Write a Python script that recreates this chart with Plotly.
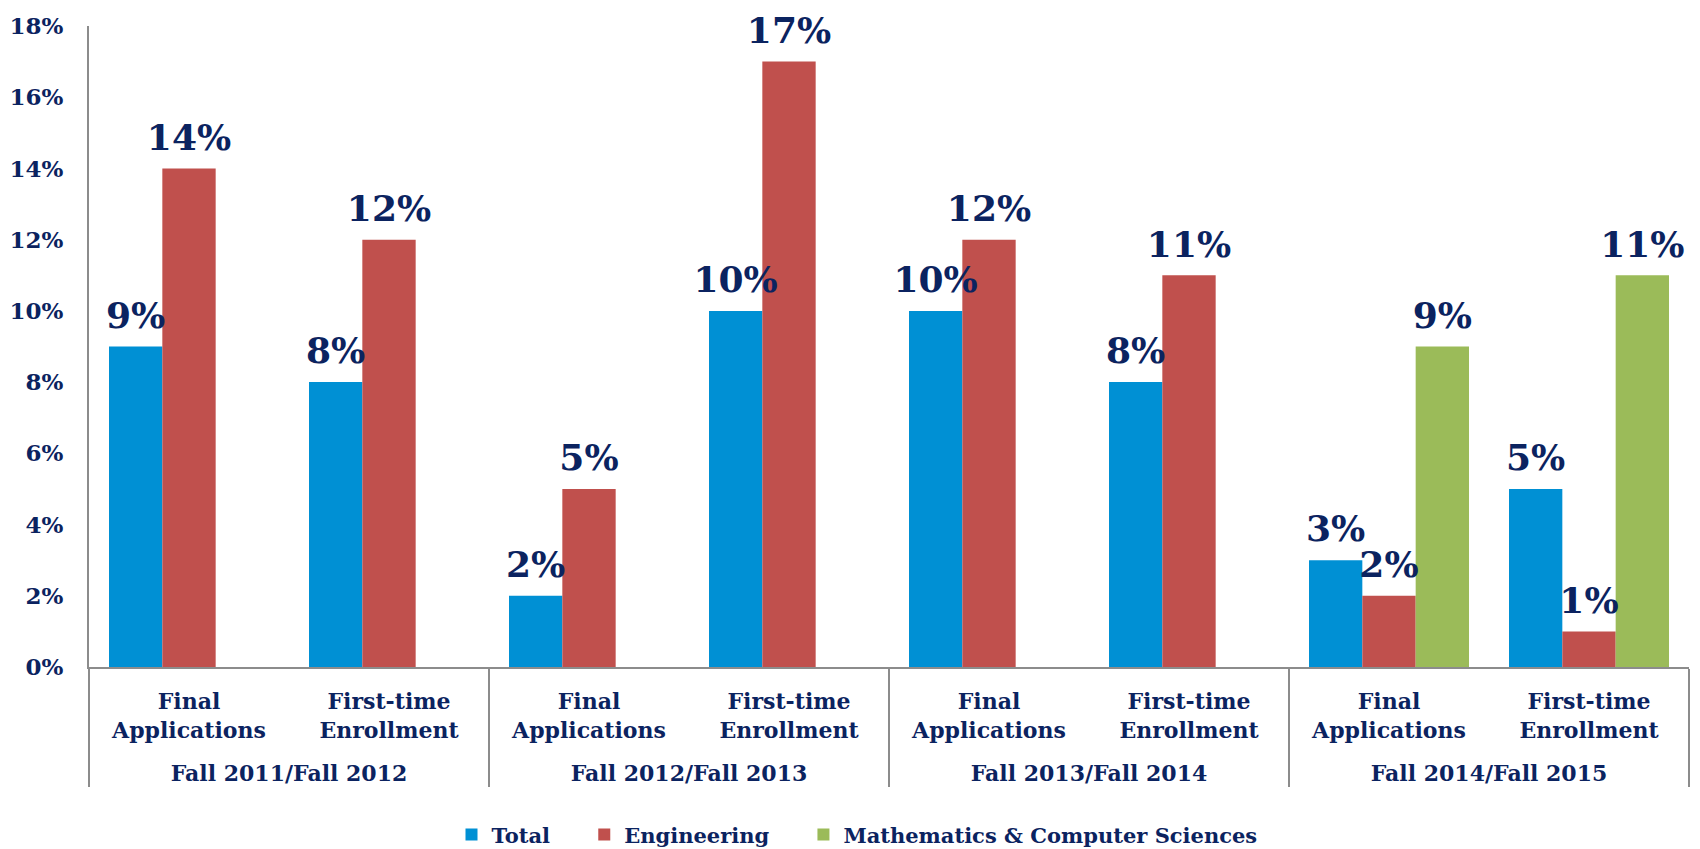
import plotly.graph_objects as go

periods = ["Fall 2011/Fall 2012", "Fall 2012/Fall 2013",
           "Fall 2013/Fall 2014", "Fall 2014/Fall 2015"]
measures = ["Final<br>Applications", "First-time<br>Enrollment"]

total = [9, 8, 2, 10, 10, 8, 3, 5]
engineering = [14, 12, 5, 17, 12, 11, 2, 1]
math_cs = [None, None, None, None, None, None, 9, 11]

# leading <br> pushes the period row down, like the original's taller rows
x_outer = ["<br>" + p for p in periods for _ in measures]
x_inner = measures * len(periods)

NAVY = "#0B2360"
FONT = "DejaVu Serif"
AXIS_GREY = "#8C8C8C"
PAD = "\u00a0" * 4

series = [
    ("Total" + PAD, total, "#0090D4"),
    ("Engineering" + PAD, engineering, "#C0504D"),
    ("Mathematics & Computer Sciences", math_cs, "#9BBB59"),
]

fig = go.Figure()
for name, vals, color in series:
    fig.add_trace(go.Bar(
        x=[x_outer, x_inner],
        y=vals,
        name=name,
        marker=dict(color=color, line=dict(width=0)),
        hoverinfo="skip",
    ))

# value labels: grouped scatter so they line up with the bars, lifted a bit
for name, vals, color in series:
    fig.add_trace(go.Scatter(
        x=[x_outer, x_inner],
        y=vals,
        mode="markers+text",
        marker=dict(size=14, opacity=0),
        text=[f"{v}%" if v is not None else "" for v in vals],
        textposition="top center",
        textfont=dict(family=FONT, size=36, color=NAVY, weight="bold"),
        cliponaxis=False,
        showlegend=False,
        hoverinfo="skip",
    ))

# page body has an 8px margin, so the figure is offset by 8px in the window
fig.update_layout(
    width=1684,
    height=841,
    barmode="group",
    bargap=0.2,
    bargroupgap=0,
    scattermode="group",
    scattergap=0.2,
    plot_bgcolor="white",
    paper_bgcolor="white",
    margin=dict(l=81, r=3, t=18, b=182, autoexpand=False),
    font=dict(family=FONT, color=NAVY, weight="bold"),
    xaxis=dict(
        type="multicategory",
        showline=True,
        linecolor=AXIS_GREY,
        linewidth=2,
        showgrid=False,
        showdividers=True,
        dividercolor=AXIS_GREY,
        dividerwidth=2,
        ticks="",
        ticklabelstandoff=14,
        tickfont=dict(family=FONT, size=22, color=NAVY, weight="bold"),
        automargin=False,
    ),
    yaxis=dict(
        range=[0, 18],
        dtick=2,
        ticksuffix="%",
        showline=True,
        linecolor=AXIS_GREY,
        linewidth=2,
        showgrid=False,
        zeroline=False,
        ticks="",
        ticklabelstandoff=19,
        tickfont=dict(family=FONT, size=23, color=NAVY, weight="bold"),
        automargin=False,
    ),
    legend=dict(
        orientation="h",
        x=0.48,
        xanchor="center",
        y=-0.262,
        yanchor="middle",
        font=dict(family=FONT, size=21, color=NAVY, weight="bold"),
        itemwidth=30,
        traceorder="normal",
    ),
)

fig.write_html("out.html")
